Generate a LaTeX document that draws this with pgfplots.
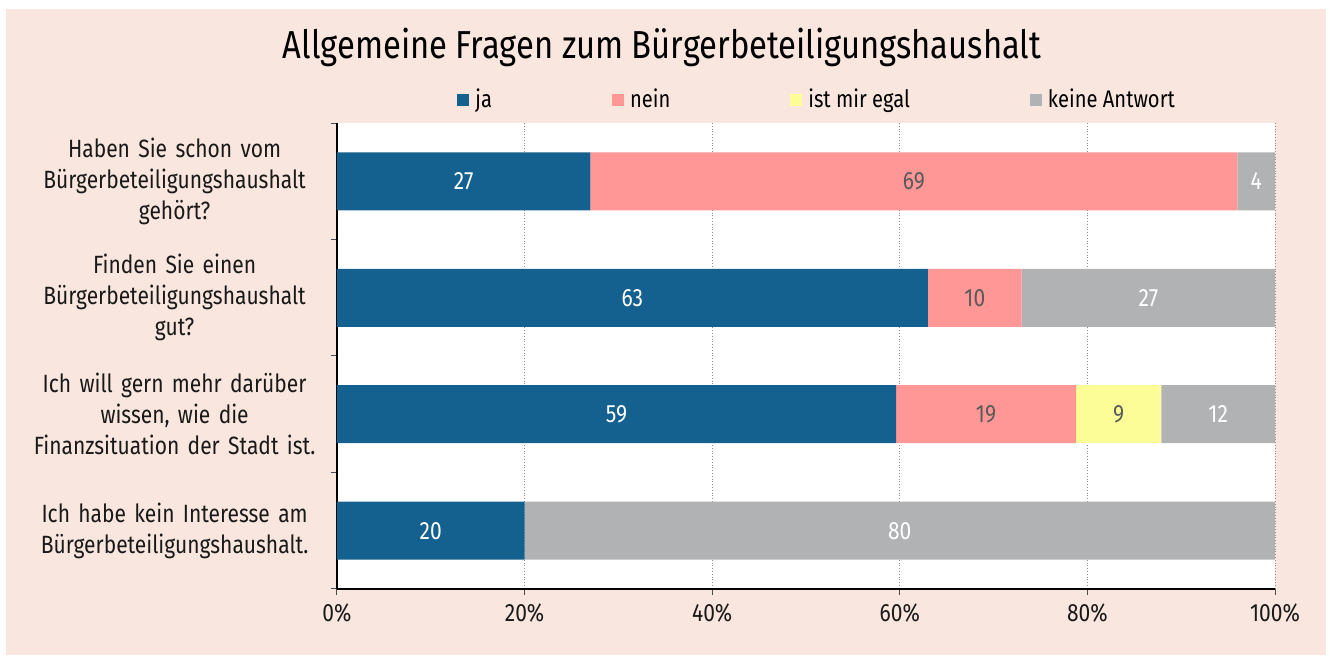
\documentclass[border=0pt]{standalone}
\usepackage{pgfplots}
\pgfplotsset{compat=1.18}
\usepackage{fontspec}
\setmainfont{Fira Sans}[FakeStretch=0.84]
\definecolor{bg}{HTML}{F9E7DF}
\definecolor{cja}{HTML}{14618F}
\definecolor{cnein}{HTML}{FF9796}
\definecolor{cegal}{HTML}{FDFD98}
\definecolor{ckeine}{HTML}{B1B2B4}
\definecolor{lbl}{HTML}{5A5A5A}
\begin{document}
\begin{tikzpicture}
\begin{scope}[x=0.5pt,y=0.5pt]
\useasboundingbox (0,0) rectangle (1330,657);
\fill[white] (0,0) rectangle (1330,657);
\fill[bg] (6,2) rectangle (1326,648);
\node[font=\fontsize{19.5}{22}\selectfont] at (662,610) {Allgemeine Fragen zum Bürgerbeteiligungshaushalt};
\end{scope}
\begin{axis}[
  at={(168.5pt,34pt)}, anchor=south west,
  width=469pt, height=233pt, scale only axis,
  xbar stacked, bar width=29pt,
  xmin=0, xmax=100, ymin=-0.5, ymax=3.5, y dir=reverse,
  axis background/.style={fill=white},
  axis x line*=bottom, axis y line*=left,
  axis line style={black, line width=0.6pt},
  xtick={0,20,40,60,80,100},
  xticklabels={0\%,20\%,40\%,60\%,80\%,100\%},
  minor xtick={0,20,40,60,80,100},
  ytick={0,1,2,3},
  minor ytick={-0.5,0.5,1.5,2.5,3.5},
  major tick length=0pt, minor tick length=3pt,
  tick align=outside,
  minor tick style={black!70, line width=0.5pt},
  xmajorgrids, grid style={black!45, densely dotted, line width=0.5pt},
  minor grid style={draw=none},
  yticklabels={{Haben Sie schon vom\\Bürgerbeteiligungshaushalt\\gehört?},
               {Finden Sie einen\\Bürgerbeteiligungshaushalt\\gut?},
               {Ich will gern mehr darüber\\wissen, wie die\\Finanzsituation der Stadt ist.},
               {Ich habe kein Interesse am\\Bürgerbeteiligungshaushalt.}},
  yticklabel style={text width=150pt, align=center, inner sep=0pt, xshift=-6pt,
     font=\fontsize{12.5}{15.5}\selectfont, text=black!90},
  xticklabel style={font=\fontsize{12.5}{15}\selectfont, text=black!90, yshift=-4pt},
  legend columns=4,
  legend style={at={(0.128,1.05)}, anchor=west, draw=none, fill=none,
     font=\fontsize{12}{14}\selectfont, inner sep=0pt,
     /tikz/every even column/.append style={column sep=58pt},
     /tikz/every odd column/.append style={column sep=1pt}},
  legend image code/.code={\fill[#1] (0pt,-3pt) rectangle (6pt,3pt);},
]
\addplot[fill=cja, draw=none] coordinates {(27,0) (63,1) (59.596,2) (20,3)};
\addlegendentry{ja}
\addplot[fill=cnein, draw=none] coordinates {(69,0) (10,1) (19.192,2) (0,3)};
\addlegendentry{nein}
\addplot[fill=cegal, draw=none] coordinates {(0,0) (0,1) (9.091,2) (0,3)};
\addlegendentry{ist mir egal}
\addplot[fill=ckeine, draw=none] coordinates {(4,0) (27,1) (12.121,2) (80,3)};
\addlegendentry{keine Antwort}
\end{axis}
\begin{axis}[
  at={(168.5pt,34pt)}, anchor=south west,
  width=469pt, height=233pt, scale only axis,
  xmin=0, xmax=100, ymin=-0.5, ymax=3.5, y dir=reverse, hide axis,
  every node near coord/.append style={anchor=center, font=\fontsize{12.5}{15}\selectfont},
]
\addplot[only marks, mark=none, nodes near coords, point meta=explicit symbolic,
  every node near coord/.append style={text=white}]
  coordinates {(13.5,0) [27] (31.5,1) [63] (29.8,2) [59] (10,3) [20]
               (98,0) [4] (86.5,1) [27] (93.94,2) [12] (60,3) [80]};
\addplot[only marks, mark=none, nodes near coords, point meta=explicit symbolic,
  every node near coord/.append style={text=lbl}]
  coordinates {(61.5,0) [69] (68,1) [10] (69.19,2) [19] (83.33,2) [9]};
\end{axis}
\end{tikzpicture}
\end{document}
